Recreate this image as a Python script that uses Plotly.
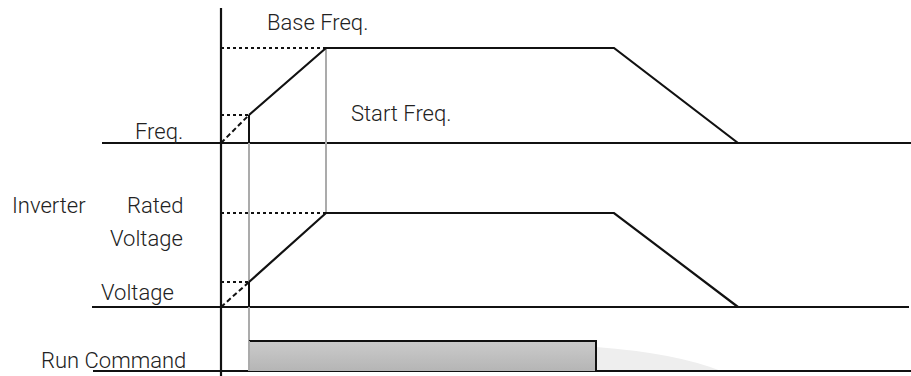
import plotly.graph_objects as go

# ---- diagram data (time units, level units) ----
time_pts = [0, 28, 105, 393, 517]        # origin, start, base reached, decel start, stop
freq_lvl = [0, 28, 95, 95, 0]            # frequency profile (start freq, base freq)
volt_lvl = [0, 25, 94, 94, 0]            # voltage profile (start voltage, rated voltage)
run_on, run_off, run_lvl = 28, 375, 30   # run command

labels_left = ["Freq.", "Inverter", "Rated", "Voltage", "Voltage", "Run Command"]
label_base = "Base Freq."
label_start = "Start Freq."

# ---- layout offsets (baselines of each trace, in y units) ----
FREQ_Y0, VOLT_Y0, RUN_Y0 = 233, 69, 5
X_MIN, X_MAX, Y_MAX = -221, 690, 376

BLACK = "#111111"
GRAY = "#ababab"
TXT = "#222222"

fig = go.Figure()

def line(xs, ys, color=BLACK, width=2, dash="solid"):
    fig.add_trace(go.Scatter(x=xs, y=ys, mode="lines",
                             line=dict(color=color, width=width, dash=dash),
                             hoverinfo="skip", showlegend=False))

# decorative reflection under run command bar
fig.add_shape(type="path",
              path=f"M {run_off} {RUN_Y0 + run_lvl - 6} Q {run_off + 80} {RUN_Y0 + 18} {run_off + 125} {RUN_Y0} L {run_off} {RUN_Y0} Z",
              fillcolor="#eeeeee", line=dict(width=0), layer="below")

# baselines
line([-119, X_MAX], [FREQ_Y0, FREQ_Y0])
line([-129, 688], [VOLT_Y0, VOLT_Y0])
line([-128, X_MAX], [RUN_Y0, RUN_Y0])

# gray guide lines
line([time_pts[1], time_pts[1]], [RUN_Y0, FREQ_Y0], color=GRAY, width=2)
line([time_pts[2], time_pts[2]], [VOLT_Y0 + volt_lvl[2], FREQ_Y0 + freq_lvl[2]], color=GRAY, width=2)

# run command bar (gradient fill)
fig.add_trace(go.Scatter(
    x=[run_on, run_off, run_off, run_on, run_on],
    y=[RUN_Y0, RUN_Y0, RUN_Y0 + run_lvl, RUN_Y0 + run_lvl, RUN_Y0],
    mode="lines", fill="toself", line=dict(width=0),
    fillgradient=dict(type="vertical",
                      colorscale=[[0, "#b5b5b5"], [1, "#cbcbcb"]]),
    hoverinfo="skip", showlegend=False))
line([run_on, run_off, run_off], [RUN_Y0 + run_lvl, RUN_Y0 + run_lvl, RUN_Y0])
line([run_on, run_on], [RUN_Y0, RUN_Y0 + run_lvl], color=GRAY, width=2)

# vertical time axis
line([0, 0], [0, 368], width=2.2)

for base, lvl in ((FREQ_Y0, freq_lvl), (VOLT_Y0, volt_lvl)):
    ys = [base + v for v in lvl]
    # dotted level guides
    line([0, time_pts[1]], [ys[1], ys[1]], dash="dot")
    line([0, time_pts[2]], [ys[2], ys[2]], dash="dot")
    # dashed ramp below start level
    line(time_pts[:2], ys[:2], dash="5px,3px")
    # start step
    line([time_pts[1], time_pts[1]], [base, ys[1]])
    # main profile
    line(time_pts[1:], ys[1:], width=2.2)

font = dict(family="Roboto", size=22, color=TXT, weight=300)
ann = [
    (label_base, 44, 354, "left"),
    (label_start, 128, 263, "left"),
    (labels_left[0], -36, 245, "right"),
    (labels_left[1], -211, 171, "left"),
    (labels_left[2], -36, 171, "right"),
    (labels_left[3], -36, 138, "right"),
    (labels_left[4], -45, 84, "right"),
    (labels_left[5], -33, 16, "right"),
]
for text, x, y, anc in ann:
    fig.add_annotation(text=text, x=x, y=y, xref="x", yref="y",
                       xanchor=anc, yanchor="middle", showarrow=False, font=font)

fig.update_layout(
    width=911, height=376, margin=dict(l=0, r=0, t=0, b=0),
    paper_bgcolor="white", plot_bgcolor="white",
    xaxis=dict(range=[X_MIN, X_MAX], visible=False, fixedrange=True),
    yaxis=dict(range=[0, Y_MAX], visible=False, fixedrange=True),
    showlegend=False,
)

fig.write_html("out.html", config={"displayModeBar": False},
               post_script="document.body.style.margin='0';document.body.style.overflow='hidden';")
